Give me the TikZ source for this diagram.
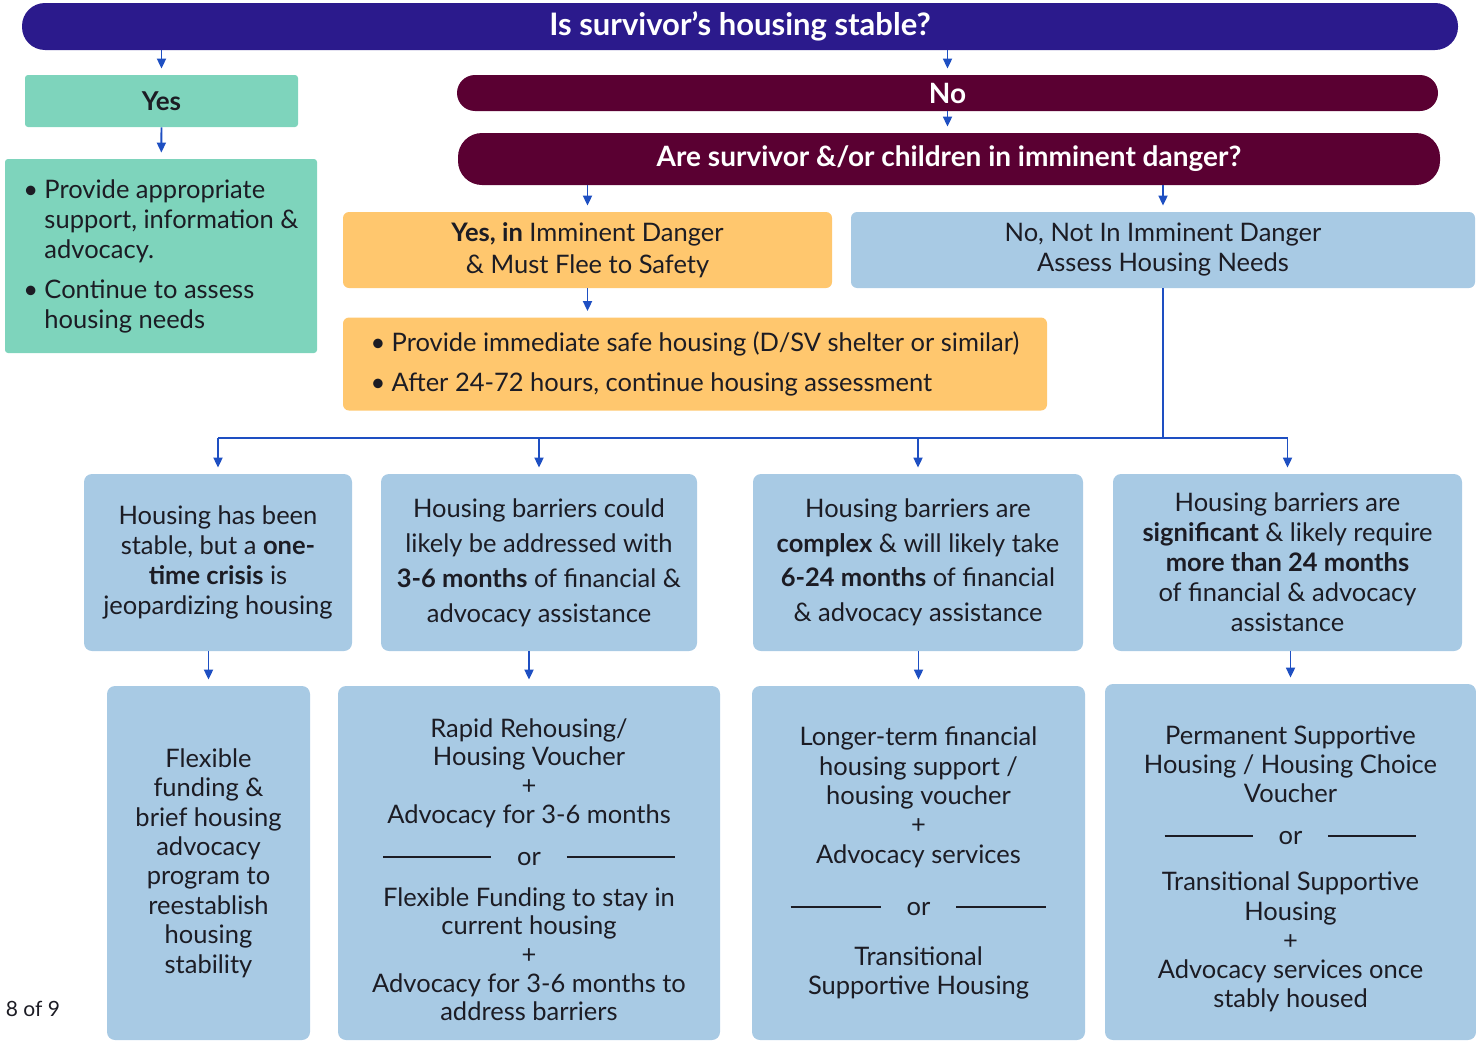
\documentclass[tikz,border=0pt]{standalone}
\usepackage{fontspec}
\setmainfont{Lato}
\usetikzlibrary{arrows.meta}

\definecolor{indigo}{HTML}{2B1A8C}
\definecolor{maroon}{HTML}{5A0032}
\definecolor{teal}{HTML}{7ED4BC}
\definecolor{amber}{HTML}{FFC76E}
\definecolor{skyblue}{HTML}{A8CAE4}
\definecolor{linkblue}{HTML}{1E4FC2}
\definecolor{ink}{HTML}{1C1C24}

\newcommand{\itm}{\makebox[10.5pt][l]{\textbullet}}
\newcommand{\ind}{\hspace*{10.5pt}}
\newcommand{\orrule}[1]{\rule[0.3em]{#1}{0.8pt}\hspace{13pt}or\hspace{13pt}\rule[0.3em]{#1}{0.8pt}}

\tikzset{
  box/.style={rectangle, rounded corners=4pt, inner sep=0pt, align=center, text=ink,
    font=\fontsize{12.75}{15}\selectfont},
  bar/.style={box, text=white, font=\bfseries\fontsize{14}{15}\selectfont},
  arr/.style={draw=linkblue, line width=0.9pt, -{Triangle[width=4.5pt,length=5pt]}, shorten >=3pt},
  wire/.style={draw=linkblue, line width=1pt},
}

\begin{document}
\begin{tikzpicture}[x=0.5pt,y=-0.5pt]
\useasboundingbox (0,0) rectangle (1476,1044);

% question banners
\node[bar, fill=indigo, rounded corners=11.5pt, minimum width=718pt, minimum height=23.5pt, font=\bfseries\fontsize{15.5}{15}\selectfont] (q1) at (740,26.5) {Is survivor’s housing stable?};
\node[bar, fill=maroon, rounded corners=9pt, minimum width=490.5pt, minimum height=18pt] (no) at (947.5,93) {No};
\node[bar, fill=maroon, rounded corners=12pt, minimum width=491pt, minimum height=26pt] (q2) at (949,159) {Are survivor \&/or children in imminent danger?};

% stable branch
\node[box, fill=teal, rounded corners=1.5pt, minimum width=136.5pt, minimum height=26pt, font=\bfseries\fontsize{13}{15}\selectfont] (yes) at (161.5,101) {Yes};
\node[box, fill=teal, rounded corners=1.5pt, minimum width=156pt, minimum height=97pt, align=left, font=\fontsize{12.75}{15}\selectfont] (yesl) at (161,256)
  {\itm Provide appropriate\\ \ind support, information \&\\ \ind advocacy.\\[5pt] \itm Continue to assess\\ \ind housing needs};

% danger branch
\node[box, fill=amber, rounded corners=3pt, minimum width=244.5pt, minimum height=38pt, font=\fontsize{12.75}{16}\selectfont] (yesd) at (587.5,250) {\textbf{Yes, in} Imminent Danger\\ \& Must Flee to Safety};
\node[box, fill=skyblue, rounded corners=3pt, minimum width=312pt, minimum height=38pt] (nod) at (1163,250) {No, Not In Imminent Danger\\ Assess Housing Needs};
\node[box, fill=amber, rounded corners=3pt, minimum width=352pt, minimum height=46.5pt, align=left] (flee) at (695,364)
  {\itm Provide immediate safe housing (D/SV shelter or similar)\\[5pt] \itm After 24-72 hours, continue housing assessment};

% needs
\node[box, fill=skyblue, minimum width=134pt, minimum height=88.5pt] (a1) at (218,562.5)
  {Housing has been\\ stable, but a \textbf{one-}\\ \textbf{time crisis} is\\ jeopardizing housing};
\node[box, fill=skyblue, minimum width=158pt, minimum height=88.5pt, font=\fontsize{12.75}{17.5}\selectfont] (b1) at (539,562.5)
  {Housing barriers could\\ likely be addressed with\\ \textbf{3-6 months} of financial \&\\ advocacy assistance};
\node[box, fill=skyblue, minimum width=165pt, minimum height=88.5pt, font=\fontsize{12.75}{17.25}\selectfont] (c1) at (918,562.5)
  {Housing barriers are\\ \textbf{complex} \& will likely take\\ \textbf{6-24 months} of financial\\ \& advocacy assistance};
\node[box, fill=skyblue, minimum width=174.5pt, minimum height=88.5pt] (d1) at (1287.5,562.5)
  {Housing barriers are\\ \textbf{significant} \& likely require\\ \textbf{more than 24 months}\\ of financial \& advocacy\\ assistance};

% responses
\node[box, fill=skyblue, minimum width=101.5pt, minimum height=177pt, font=\fontsize{12.75}{14.7}\selectfont] (a2) at (208.5,863)
  {Flexible\\ funding \&\\ brief housing\\ advocacy\\ program to\\ reestablish\\ housing\\ stability};
\node[box, fill=skyblue, minimum width=191pt, minimum height=177pt, font=\fontsize{12.75}{14.3}\selectfont] (b2) at (529,863)
  {\rule{0pt}{16pt}Rapid Rehousing/\\ Housing Voucher\\ +\\ Advocacy for 3-6 months\\[7pt] \orrule{54pt}\\[6pt] Flexible Funding to stay in\\ current housing\\ +\\ Advocacy for 3-6 months to\\ address barriers};
\node[box, fill=skyblue, minimum width=166.5pt, minimum height=177pt, font=\fontsize{12.75}{14.7}\selectfont] (c2) at (918.5,863)
  {Longer-term financial\\ housing support /\\ housing voucher\\ +\\ Advocacy services\\[11.5pt] \orrule{45pt}\\[10pt] Transitional\\ Supportive Housing};
\node[box, fill=skyblue, minimum width=185.5pt, minimum height=178pt, font=\fontsize{12.75}{14.6}\selectfont] (d2) at (1290.5,862)
  {\rule{0pt}{16pt}Permanent Supportive\\ Housing / Housing Choice\\ Voucher\\[6.5pt] \orrule{44pt}\\[8.5pt] Transitional Supportive\\ Housing\\ +\\ Advocacy services once\\ stably housed};

\node[text=ink, font=\fontsize{10.5}{12}\selectfont] (pg) at (33,1009) {8 of 9};

% connectors
\coordinate (bus) at (0,438);
\draw[arr] (q1.south -| yes.north) -- (yes.north);
\draw[arr] (yes) -- (yesl);
\draw[arr] (q1.south -| no.north) -- (no.north);
\draw[arr] (no) -- (q2.north -| no.north);
\draw[arr] (q2.south -| yesd.north) -- (yesd.north);
\draw[arr] (q2.south -| nod.north) -- (nod.north);
\draw[arr] (yesd) -- (yesd.south |- flee.north);
\draw[wire] (nod.south) -- (nod.south |- bus);
\draw[wire] (bus -| a1.north) -- (bus -| d1.north);
\foreach \n in {a1,b1,c1,d1}
  \draw[arr] (bus -| \n.north) -- (\n.north);
\draw[arr] (a1.south -| a2.north) -- (a2.north);
\draw[arr] (b1.south -| b2.north) -- (b2.north);
\draw[arr] (c1.south -| c2.north) -- (c2.north);
\draw[arr] (d1.south -| d2.north) -- (d2.north);

\end{tikzpicture}
\end{document}
